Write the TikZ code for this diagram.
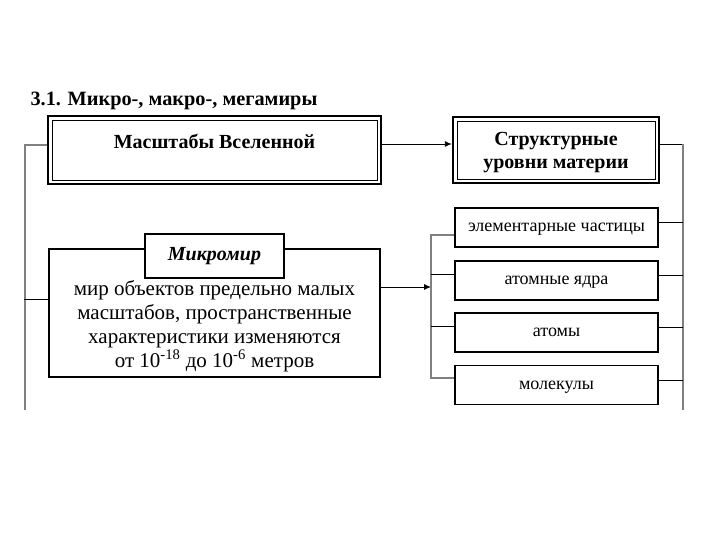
\documentclass[tikz,border=0pt]{standalone}
\usepackage{fontspec}
\setmainfont{Liberation Serif}
\usetikzlibrary{arrows.meta}
\definecolor{linegray}{gray}{0.5}

\begin{document}
\begin{tikzpicture}[x=1pt,y=-1pt,>={Latex[length=7pt,width=6pt]},
    font=\fontsize{21}{24}\selectfont,
    framebox/.style={draw,line width=2.4pt,font=\bfseries\fontsize{20}{23}\selectfont,align=center,
      path picture={\draw[line width=0.9pt]
        ([shift={(4pt,-4pt)}]path picture bounding box.north west) rectangle
        ([shift={(-4pt,4pt)}]path picture bounding box.south east);}},
    plainbox/.style={draw,line width=1.3pt,fill=white},
    levelbox/.style={plainbox,minimum width=203pt,minimum height=39pt,text height=9pt,text depth=1pt,
      font=\fontsize{18}{20}\selectfont},
    grayline/.style={draw=linegray,line width=2.2pt},
    thinline/.style={draw=black,line width=0.9pt}]
  \useasboundingbox (0,0) rectangle (720,540);

  \node[anchor=west,font=\bfseries\fontsize{20.3}{24}\selectfont] (title) at (27,101) {3.1. Микро-, макро-, мегамиры};

  % upper row
  \node[framebox,minimum width=333pt,minimum height=68pt,text height=28pt,text depth=30pt] (scales) at (214.5,150) {Масштабы Вселенной};
  \node[framebox,minimum width=206pt,minimum height=66pt,text depth=-2pt] (levels) at (556,150) {Структурные\\уровни материи};

  % micro world
  \node[plainbox,minimum width=331pt,minimum height=128pt] (micro) at (214.5,313) {};
  \node[align=center] (microtext) at ([yshift=-13pt]micro.center)
    {мир объектов предельно малых\\масштабов, пространственные\\характеристики изменяются\\от 10\textsuperscript{-18} до 10\textsuperscript{-6} метров};
  \node[plainbox,minimum width=139pt,minimum height=44pt,font=\bfseries\itshape\fontsize{20}{22}\selectfont] (microtitle) at (214.5,256) {Микромир};

  % levels of matter
  \foreach \name/\ypos/\txt in {l1/227.5/элементарные частицы,l2/280.5/атомные ядра,l3/332.5/атомы,l4/385/молекулы}
    \node[levelbox] (\name) at (556.5,\ypos) {\txt};

  % connectors
  \coordinate (leftend) at (25,410);
  \coordinate (rightend) at (683,410);
  \coordinate (fork) at (431,287);
  \draw[grayline] ([yshift=5pt]scales.west) -| (leftend);
  \draw[thinline] ([yshift=14pt]micro.west) -- ++(-24,0);
  \draw[thinline,->] ([yshift=6pt]scales.east) -- ([yshift=6pt]levels.west);
  \draw[thinline] ([yshift=6pt]levels.east) -- ([yshift=6pt]levels.east -| rightend);
  \draw[grayline] ([yshift=6pt]levels.east -| rightend) -- (rightend);
  \draw[thinline,->] (micro.east |- fork) -- (fork);
  \draw[grayline] ([yshift=-7.5pt]l1.west) -| ([yshift=7pt]l4.west -| fork) -- ([yshift=7pt]l4.west);
  \draw[thinline] ([yshift=6.5pt]l2.west) -- ([yshift=6.5pt]l2.west -| fork);
  \draw[thinline] ([yshift=6.5pt]l3.west) -- ([yshift=6.5pt]l3.west -| fork);
  \foreach \name in {l1,l2,l3,l4}
    \draw[thinline] ([yshift=5pt]\name.east) -- ([yshift=5pt]\name.east -| rightend);
\end{tikzpicture}
\end{document}
